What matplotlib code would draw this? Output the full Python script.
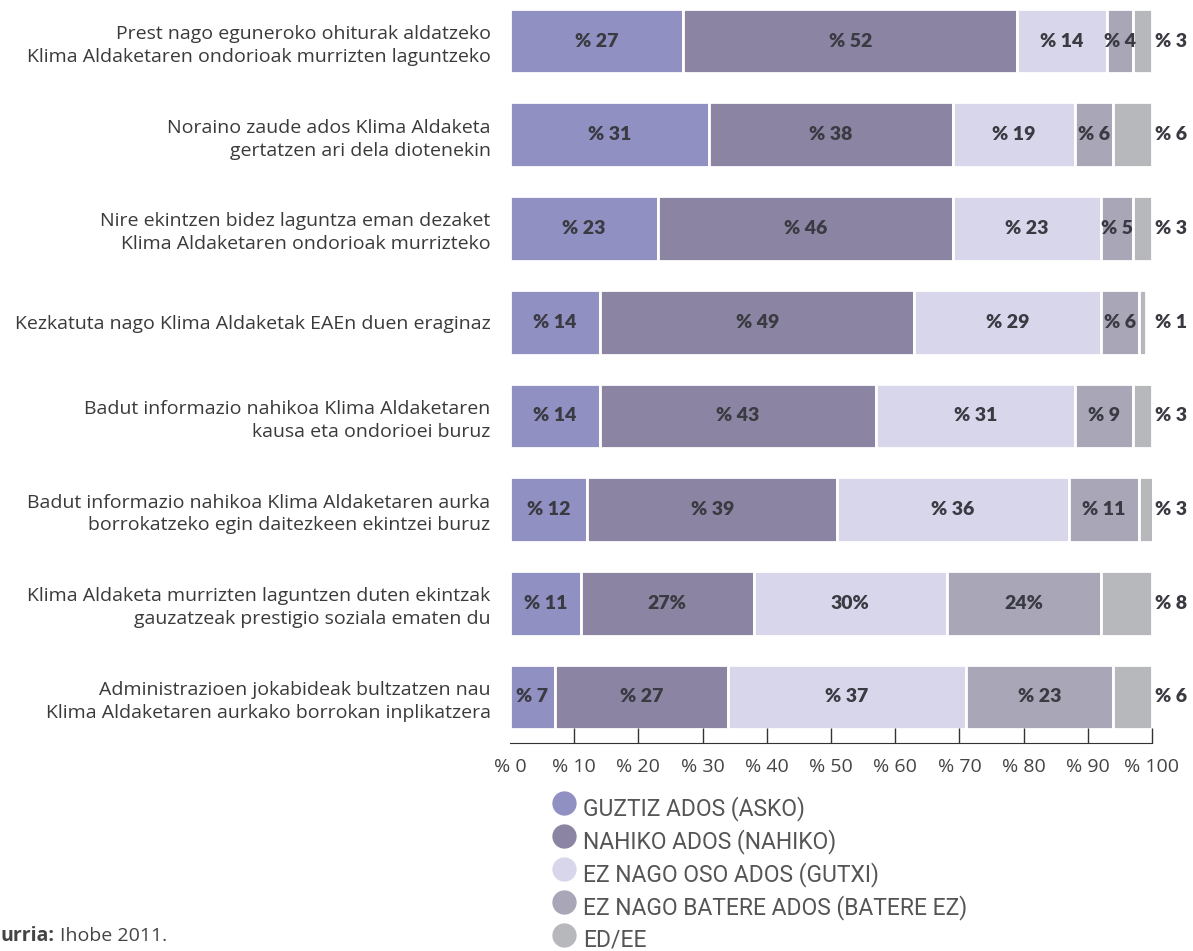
import matplotlib.pyplot as plt
from matplotlib.lines import Line2D
import numpy as np

# survey statements (top to bottom)
statements = [
    "Prest nago eguneroko ohiturak aldatzeko\nKlima Aldaketaren ondorioak murrizten laguntzeko",
    "Noraino zaude ados Klima Aldaketa\ngertatzen ari dela diotenekin",
    "Nire ekintzen bidez laguntza eman dezaket\nKlima Aldaketaren ondorioak murrizteko",
    "Kezkatuta nago Klima Aldaketak EAEn duen eraginaz",
    "Badut informazio nahikoa Klima Aldaketaren\nkausa eta ondorioei buruz",
    "Badut informazio nahikoa Klima Aldaketaren aurka\nborrokatzeko egin daitezkeen ekintzei buruz",
    "Klima Aldaketa murrizten laguntzen duten ekintzak\ngauzatzeak prestigio soziala ematen du",
    "Administrazioen jokabideak bultzatzen nau\nKlima Aldaketaren aurkako borrokan inplikatzera",
]

categories = ["GUZTIZ ADOS (ASKO)", "NAHIKO ADOS (NAHIKO)", "EZ NAGO OSO ADOS (GUTXI)",
              "EZ NAGO BATERE ADOS (BATERE EZ)", "ED/EE"]
guztiz = [27, 31, 23, 14, 14, 12, 11, 7]
nahiko = [52, 38, 46, 49, 43, 39, 27, 27]
gutxi = [14, 19, 23, 29, 31, 36, 30, 37]
batere = [4, 6, 5, 6, 9, 11, 24, 23]
ed_ee = [3, 6, 3, 1, 3, 3, 8, 6]
# labels written as "27%" instead of "% 27" in the source
suffix_labels = {(6, 1), (6, 2), (6, 3)}

colors = ["#9190c2", "#8b84a2", "#d8d6ea", "#a8a6b7", "#b7b8bb"]
text_color = "#3a3a42"
W, H = 1193, 951

fig = plt.figure(figsize=(W / 100, H / 100), dpi=100)
ax = fig.add_axes([510 / W, 1 - 743 / H, 642 / W, 743 / H])

series = [guztiz, nahiko, gutxi, batere, ed_ee]
y = np.arange(len(statements))
left = np.zeros(len(statements))
for i, (vals, col) in enumerate(zip(series, colors)):
    vals = np.array(vals)
    ax.barh(y, vals, left=left, height=0.69, color=col, edgecolor="white", linewidth=2)
    for r in range(len(statements)):
        if (r, i) in suffix_labels:
            lab = f"{vals[r]}%"
        else:
            lab = f"% {vals[r]}"
        if i == len(series) - 1:
            xpos = 103
        else:
            xpos = left[r] + vals[r] / 2
        ax.text(xpos, y[r], lab, ha="center", va="center", fontsize=14,
                fontweight="heavy", color=text_color, family="Lato")
    left += vals

ax.set_xlim(0, 100)
ax.set_ylim(7 + 46 / 93.7, 7 + 46 / 93.7 - 743 / 93.7)
ax.set_yticks(y)
ax.set_yticklabels(statements, fontsize=14, color="#3a3a3a", family="Open Sans",
                   linespacing=1.35)
ax.tick_params(axis="y", length=0, pad=14)
ax.set_xticks(np.arange(0, 101, 10))
ax.set_xticklabels([f"% {t}" for t in range(0, 101, 10)], fontsize=14,
                   color="#444444", family="Open Sans")
ax.tick_params(axis="x", direction="in", length=11, width=1, color="#333333", pad=11)
ax.xaxis.get_major_ticks()[0].tick1line.set_visible(False)
for s in ["top", "right", "left"]:
    ax.spines[s].set_visible(False)
ax.spines["bottom"].set_color("#333333")

# legend
for k, (cat, col) in enumerate(zip(categories, colors)):
    yc = 803 + 33 * k
    fig.add_artist(Line2D([564 / W], [1 - yc / H], marker="o", markersize=16.5,
                          color=col, transform=fig.transFigure))
    fig.text(583 / W, 1 - (yc + 12) / H, cat, color="#555555", fontsize=16.5, ha="left",
             va="baseline", family="Roboto")

fig.text(0, 1 - 936 / H, "urria:", fontsize=14, fontweight="bold", color="#444444",
         va="center", family="Open Sans")
fig.text(60 / W, 1 - 936 / H, "Ihobe 2011.", fontsize=14, color="#444444",
         va="center", family="Open Sans")

fig.savefig("out.png", dpi=100)
